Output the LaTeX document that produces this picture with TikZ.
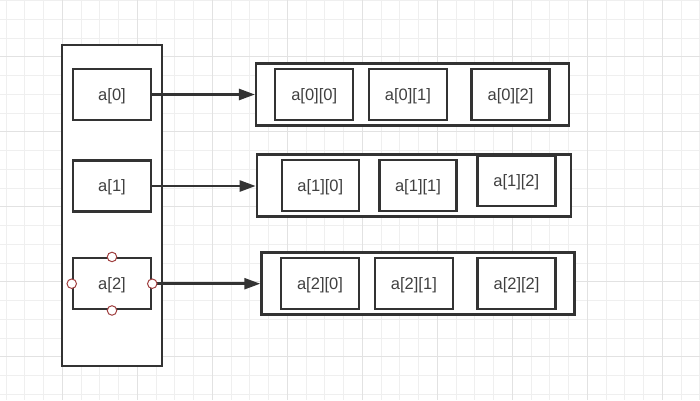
\documentclass[tikz,border=0pt]{standalone}
\usepackage{fontspec}
\setmainfont{Liberation Sans}
\usetikzlibrary{arrows.meta}

\definecolor{lineDark}{HTML}{333333}
\definecolor{textGray}{HTML}{404040}
\definecolor{gridMinor}{HTML}{EFEFEF}
\definecolor{gridMajor}{HTML}{E2E2E2}
\definecolor{handleRed}{HTML}{A04040}

\tikzset{
  cell/.style={draw=lineDark, fill=white, line width=2.5pt, minimum width=78pt,
    minimum height=51pt, inner sep=0pt, text=textGray, text height=15pt, text depth=3.5pt,
    font=\fontsize{16.5}{19}\selectfont},
  rowbox/.style={draw=lineDark, fill=white, line width=2.5pt, minimum width=313pt,
    minimum height=62pt, inner sep=0pt},
  handle/.style={circle, draw=handleRed, fill=white, line width=1pt,
    minimum size=9.5pt, inner sep=0pt},
  ptr/.style={draw=lineDark, line width=2.5pt, -{Triangle[length=16pt,width=11pt]}}
}

\begin{document}
\begin{tikzpicture}[x=1pt,y=-1pt]
\useasboundingbox (0,0) rectangle (700,400);
\fill[white] (0,0) rectangle (700,400);
% background grid
\foreach \k in {0,...,37} \draw[gridMinor, line width=1pt] ({6.05+18.75*\k},0) -- ++(0,400);
\foreach \k in {0,...,21} \draw[gridMinor, line width=1pt] (0,{0.7+18.75*\k}) -- ++(700,0);
\foreach \k in {0,...,8} \draw[gridMajor, line width=1pt] ({62+75*\k},0) -- ++(0,400);
\foreach \k in {0,...,4} \draw[gridMajor, line width=1pt] (0,{56.7+75*\k}) -- ++(700,0);

% the array of pointers
\node[draw=lineDark, fill=white, line width=2.5pt, minimum width=100pt, minimum height=321pt,
  inner sep=0pt] (arr) at (112,205.5) {};
\node[cell] (a0) at (112,94.5) {a[0]};
\node[cell] (a1) at (112,186) {a[1]};
\node[cell] (a2) at (112,283.7) {a[2]};

% rows
\node[rowbox] (row0) at (412.7,94.7) {};
\node[cell] (a00) at (314.2,94.5) {a[0][0]};
\node[cell] (a01) at (407.9,94.5) {a[0][1]};
\node[cell] (a02) at (510.5,94.5) {a[0][2]};

\node[rowbox, minimum width=314pt] (row1) at (413.9,185.5) {};
\node[cell, minimum width=77pt] (a10) at (320.3,185.5) {a[1][0]};
\node[cell, minimum width=77pt] (a11) at (418,185.5) {a[1][1]};
\node[cell, minimum height=50pt] (a12) at (516.3,181) {a[1][2]};

\node[rowbox] (row2) at (418,283.3) {};
\node[cell] (a20) at (320,283.7) {a[2][0]};
\node[cell] (a21) at (413.9,283.7) {a[2][1]};
\node[cell] (a22) at (516.5,283.7) {a[2][2]};

% pointers
\draw[ptr] (a0.east) -- (a0.east -| row0.west);
\draw[ptr] (a1.east) -- (a1.east -| row1.west);
\draw[ptr] (a2.east) -- (a2.east -| row2.west);

% selection handles
\node[handle] (h2n) at (a2.north) {};
\node[handle] (h2s) at (a2.south) {};
\node[handle] (h2w) at (a2.west) {};
\node[handle] (h2e) at (a2.east) {};
\end{tikzpicture}
\end{document}
